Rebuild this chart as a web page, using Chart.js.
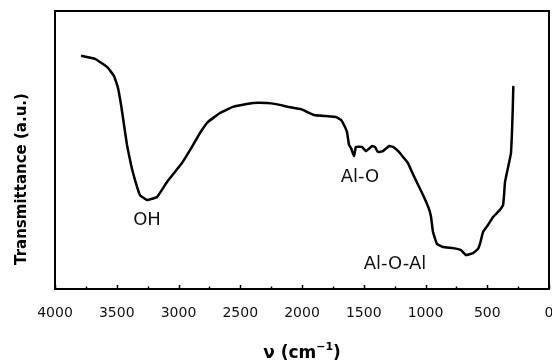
<!DOCTYPE html>
<html>
<head>
<meta charset="utf-8">
<script src="https://cdn.jsdelivr.net/npm/chart.js@4.4.0/dist/chart.umd.min.js"></script>
<style>
    html, body { margin: 0; padding: 0; background: #fff; }
    #wrap { width: 552px; height: 363px; }
</style>
</head>
<body>
<div id="wrap"><canvas id="ftir"></canvas></div>
<script>
// wavenumber (cm-1) and transmittance (a.u., 0-100)
const wavenumbers = [3789, 3676, 3579, 3522, 3490, 3465, 3441, 3417, 3384, 3352,
    3312, 3255, 3174, 3093, 2972, 2891, 2826, 2761, 2664, 2559,
    2397, 2283, 2210, 2105, 2008, 1903, 1806, 1725, 1684, 1660,
    1636, 1619, 1603, 1579, 1563, 1514, 1482, 1433, 1409, 1385,
    1344, 1296, 1263, 1215, 1182, 1142, 1117, 1077, 1020, 972,
    955, 939, 907, 858, 777, 713, 672, 615, 575, 559,
    534, 494, 453, 405, 372, 364, 356, 324, 308, 300,
    293, 289, 286];
const transmittance = [83.9, 82.8, 79.9, 76.6, 72.3, 66.2, 59, 51.8, 44.6, 39.2,
    33.8, 32, 33.1, 38.5, 45.3, 51.1, 56.1, 60.1, 63.3, 65.5,
    66.9, 66.9, 66.5, 65.5, 64.7, 62.6, 62.2, 61.9, 60.8, 59,
    56.5, 51.8, 50.7, 47.8, 51.1, 51.1, 49.6, 51.4, 51.1, 49.3,
    49.6, 51.4, 51.1, 49.3, 47.5, 45.3, 42.8, 39, 33.8, 28.8,
    25.9, 20.5, 16.2, 15.1, 14.7, 14, 12.2, 12.9, 14.4, 16.2,
    20.5, 23, 25.9, 28.1, 30.2, 33.8, 38.5, 45.3, 48.9, 56.1,
    65.5, 72.7, 73];
const xTicks = [4000, 3500, 3000, 2500, 2000, 1500, 1000, 500, 0];
const bandNames = ['OH', 'Al-O', 'Al-O-Al'];
const bandX = [3255, 1530, 1247];
const bandY = [24.8, 40.3, 9.0];

const points = wavenumbers.map((w, i) => ({ x: w, y: transmittance[i] }));

const frameAndLabels = {
    id: 'frameAndLabels',
    afterDraw(chart) {
        const ctx = chart.ctx;
        const a = chart.chartArea;
        const xs = chart.scales.x;
        const ys = chart.scales.y;
        ctx.save();
        ctx.strokeStyle = '#000';
        ctx.lineWidth = 2;
        ctx.strokeRect(a.left, a.top, a.right - a.left, a.bottom - a.top);

        // inward ticks on the bottom axis
        ctx.lineWidth = 1.5;
        for (let v = 0; v <= 4000; v += 250) {
            const px = Math.round(xs.getPixelForValue(v)) + 0.5;
            const len = v % 500 === 0 ? 4 : 2.5;
            ctx.beginPath();
            ctx.moveTo(px, a.bottom);
            ctx.lineTo(px, a.bottom - len);
            ctx.stroke();
        }

        ctx.fillStyle = '#111';
        ctx.font = '14px "DejaVu Sans"';
        ctx.textAlign = 'center';
        ctx.textBaseline = 'middle';
        xTicks.forEach(t => {
            ctx.fillText(String(t), xs.getPixelForValue(t), a.bottom + 24);
        });

        ctx.font = '18px "DejaVu Sans"';
        bandNames.forEach((name, i) => {
            ctx.fillText(name, xs.getPixelForValue(bandX[i]), ys.getPixelForValue(bandY[i]));
        });

        // x axis title with superscript
        ctx.fillStyle = '#000';
        ctx.textAlign = 'left';
        ctx.textBaseline = 'alphabetic';
        const main = 'ν (cm';
        ctx.font = 'bold 17px "DejaVu Sans"';
        const w1 = ctx.measureText(main).width;
        ctx.font = 'bold 11px "DejaVu Sans"';
        const w2 = ctx.measureText('−1').width;
        ctx.font = 'bold 17px "DejaVu Sans"';
        const w3 = ctx.measureText(')').width;
        let x0 = 302 - (w1 + w2 + w3) / 2;
        const base = 358;
        ctx.fillText(main, x0, base);
        ctx.font = 'bold 11px "DejaVu Sans"';
        ctx.fillText('−1', x0 + w1, base - 8);
        ctx.font = 'bold 17px "DejaVu Sans"';
        ctx.fillText(')', x0 + w1 + w2, base);

        // y axis title
        ctx.translate(22, 179);
        ctx.rotate(-Math.PI / 2);
        ctx.textAlign = 'center';
        ctx.textBaseline = 'middle';
        ctx.font = 'bold 15px "DejaVu Sans"';
        ctx.fillText('Transmittance (a.u.)', 0, 0);
        ctx.restore();
    }
};

new Chart(document.getElementById('ftir'), {
    type: 'scatter',
    data: {
        datasets: [{
            data: points,
            showLine: true,
            borderColor: '#000',
            borderWidth: 2.5,
            pointRadius: 0,
            tension: 0.1,
            fill: false
        }]
    },
    options: {
        responsive: true,
        maintainAspectRatio: false,
        animation: false,
        layout: { padding: { left: 55, right: 3, top: 11, bottom: 74 } },
        plugins: { legend: { display: false }, tooltip: { enabled: false } },
        scales: {
            x: { type: 'linear', min: 0, max: 4000, reverse: true, display: false },
            y: { type: 'linear', min: 0, max: 100, display: false }
        }
    },
    plugins: [frameAndLabels]
});
</script>
</body>
</html>
